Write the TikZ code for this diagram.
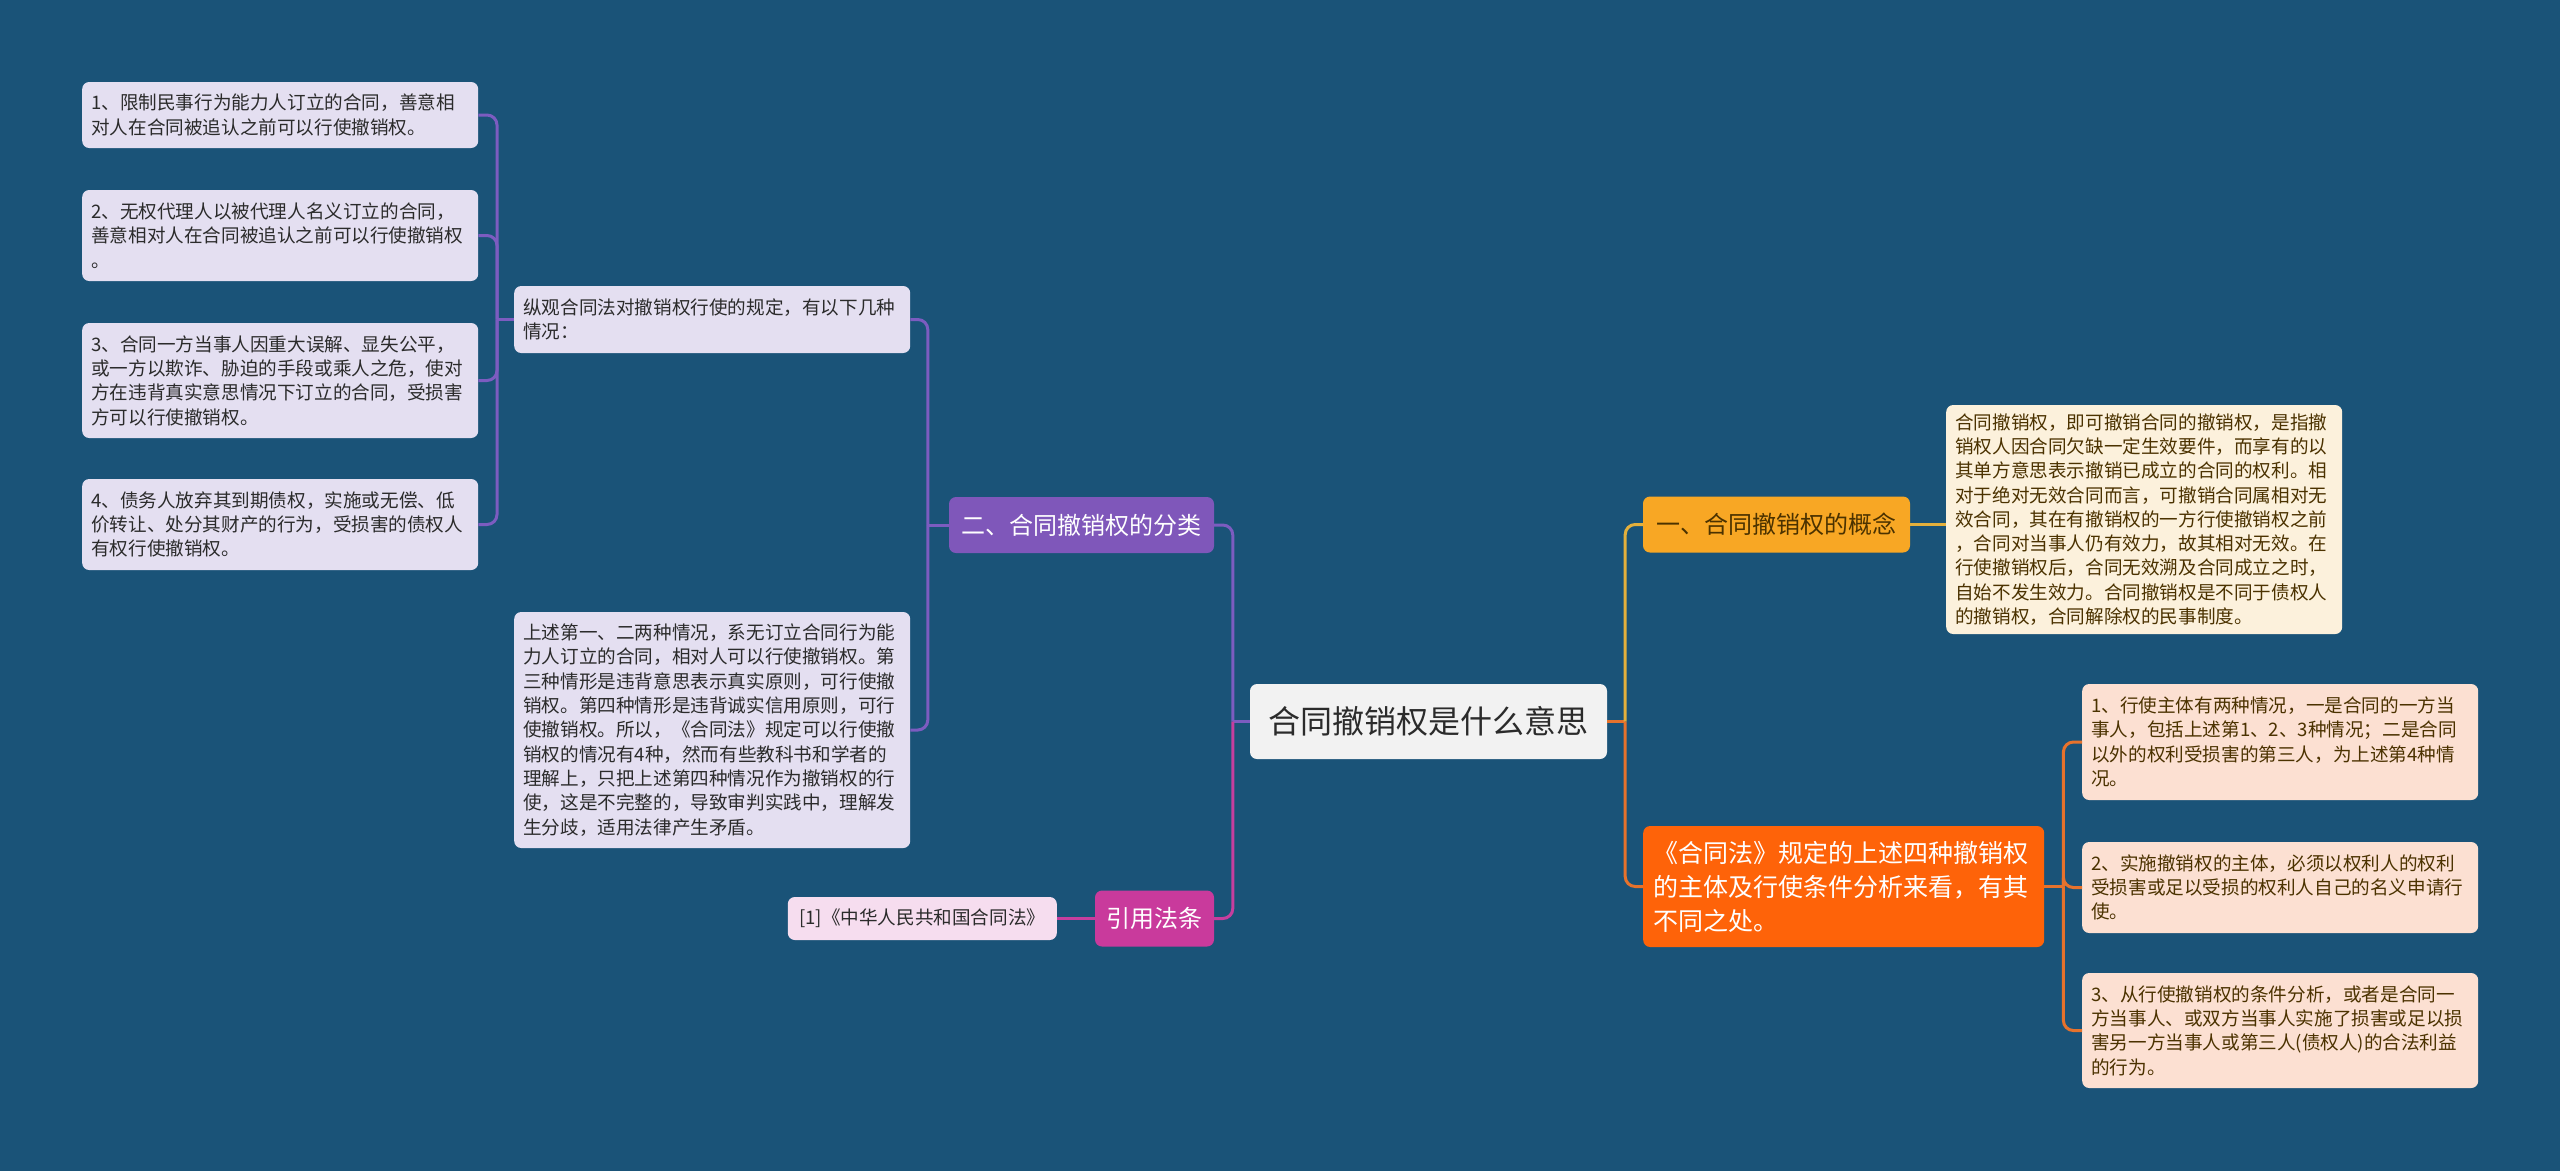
\documentclass[tikz,border=0pt]{standalone}
\usepackage{fontspec}
\setmainfont{Noto Sans CJK SC}
\usepackage{tikz}
\usetikzlibrary{positioning,calc}
\definecolor{bgblue}{HTML}{1A5378}
\definecolor{purplenode}{HTML}{7F57BA}
\definecolor{purpleleaf}{HTML}{E4DFF1}
\definecolor{purpleline}{HTML}{7C5CC0}
\definecolor{pinknode}{HTML}{C93A9C}
\definecolor{pinkleaf}{HTML}{F6DDEF}
\definecolor{pinkline}{HTML}{C63E9E}
\definecolor{yellownode}{HTML}{F8A724}
\definecolor{yellowleaf}{HTML}{FCF1DC}
\definecolor{yellowline}{HTML}{E4B03C}
\definecolor{orangenode}{HTML}{FE6309}
\definecolor{orangeleaf}{HTML}{FCE0D2}
\definecolor{orangeline}{HTML}{E6722C}
\definecolor{darktext}{HTML}{2B2B2B}
\definecolor{browntext}{HTML}{4B3200}
\newcommand{\leaffont}{\fontsize{18.6pt}{24.3pt}\selectfont}
\newcommand{\branchfont}{\fontsize{24pt}{30pt}\selectfont}

\tikzset{
  leaf/.style={rounded corners=7pt, anchor=west, align=left, inner xsep=9pt, inner ysep=0pt,
    text width=378pt, font=\leaffont, text=darktext},
  branch/.style={rounded corners=7pt, inner sep=0pt, minimum height=56pt, font=\branchfont, text=white},
  conn/.style={line width=3pt},
}

\begin{document}
\begin{tikzpicture}[x=1pt,y=-1pt]
  \fill[bgblue] (0,0) rectangle (2560,1171);
  \useasboundingbox (0,0) rectangle (2560,1171);

  % Root node
  \node[rounded corners=7pt, fill=black!5, minimum width=357pt, minimum height=75pt, inner sep=0pt,
    font=\fontsize{32pt}{36pt}\selectfont, text=darktext] (root) at (1428.5,721.5) {合同撤销权是什么意思};

  % Left main branches
  \node[branch, fill=purplenode, minimum width=265pt] (fenlei) at (1081.5,525) {二、合同撤销权的分类};
  \node[branch, fill=pinknode, minimum width=119pt] (yinyong) at (1154.5,918.5) {引用法条};

  % Right main branches
  \node[branch, fill=yellownode, minimum width=267pt, text=browntext] (gainian) at (1776.5,524.5) {一、合同撤销权的概念};
  \node[rounded corners=7pt, fill=orangenode, anchor=west, align=left, inner xsep=10.5pt, inner ysep=0pt,
    text width=380pt, minimum height=121pt, font=\fontsize{25pt}{34pt}\selectfont, text=white]
    (zhuti) at (1643,886.5) {《合同法》规定的上述四种撤销权\\的主体及行使条件分析来看，有其\\不同之处。};

  % Leaves of fenlei
  \node[leaf, fill=purpleleaf, minimum height=67pt] (zongguan) at (514,319.5)
    {纵观合同法对撤销权行使的规定，有以下几种\\情况：};
  \node[leaf, fill=purpleleaf, minimum height=236pt] (shangshu) at (514,730)
    {上述第一、二两种情况，系无订立合同行为能\\力人订立的合同，相对人可以行使撤销权。第\\三种情形是违背意思表示真实原则，可行使撤\\销权。第四种情形是违背诚实信用原则，可行\\使撤销权。所以，《合同法》规定可以行使撤\\销权的情况有4种，然而有些教科书和学者的\\理解上，只把上述第四种情况作为撤销权的行\\使，这是不完整的，导致审判实践中，理解发\\生分歧，适用法律产生矛盾。};

  % Leaves of zongguan
  \node[leaf, fill=purpleleaf, minimum height=66pt] (qk1) at (82,115)
    {1、限制民事行为能力人订立的合同，善意相\\对人在合同被追认之前可以行使撤销权。};
  \node[leaf, fill=purpleleaf, minimum height=91pt] (qk2) at (82,235.5)
    {2、无权代理人以被代理人名义订立的合同，\\善意相对人在合同被追认之前可以行使撤销权\\。};
  \node[leaf, fill=purpleleaf, minimum height=115pt] (qk3) at (82,380.5)
    {3、合同一方当事人因重大误解、显失公平，\\或一方以欺诈、胁迫的手段或乘人之危，使对\\方在违背真实意思情况下订立的合同，受损害\\方可以行使撤销权。};
  \node[leaf, fill=purpleleaf, minimum height=91pt] (qk4) at (82,524.5)
    {4、债务人放弃其到期债权，实施或无偿、低\\价转让、处分其财产的行为，受损害的债权人\\有权行使撤销权。};

  % Leaf of yinyong
  \node[rounded corners=7pt, fill=pinkleaf, minimum width=269pt, minimum height=43pt, inner sep=0pt,
    font=\leaffont, text=darktext, anchor=east] (falv) at (1057,918.5) {[1]《中华人民共和国合同法》};

  % Leaf of gainian
  \node[leaf, fill=yellowleaf, minimum height=229pt, text=browntext] (dingyi) at (1946,519.5)
    {合同撤销权，即可撤销合同的撤销权，是指撤\\销权人因合同欠缺一定生效要件，而享有的以\\其单方意思表示撤销已成立的合同的权利。相\\对于绝对无效合同而言，可撤销合同属相对无\\效合同，其在有撤销权的一方行使撤销权之前\\，合同对当事人仍有效力，故其相对无效。在\\行使撤销权后，合同无效溯及合同成立之时，\\自始不发生效力。合同撤销权是不同于债权人\\的撤销权，合同解除权的民事制度。};

  % Leaves of zhuti
  \node[leaf, fill=orangeleaf, minimum height=116pt, text=browntext] (zt1) at (2082,742)
    {1、行使主体有两种情况，一是合同的一方当\\事人，包括上述第1、2、3种情况；二是合同\\以外的权利受损害的第三人，为上述第4种情\\况。};
  \node[leaf, fill=orangeleaf, minimum height=91pt, text=browntext] (zt2) at (2082,887.5)
    {2、实施撤销权的主体，必须以权利人的权利\\受损害或足以受损的权利人自己的名义申请行\\使。};
  \node[leaf, fill=orangeleaf, minimum height=115pt, text=browntext] (zt3) at (2082,1030.5)
    {3、从行使撤销权的条件分析，或者是合同一\\方当事人、或双方当事人实施了损害或足以损\\害另一方当事人或第三人(债权人)的合法利益\\的行为。};

  % Junctions
  \coordinate (jroot-l) at ([xshift=-17pt]root.west);
  \coordinate (jroot-r) at ([xshift=18pt]root.east);
  \coordinate (jfenlei) at ([xshift=-21pt]fenlei.west);
  \coordinate (jzongguan) at ([xshift=-17pt]zongguan.west);
  \coordinate (jzhuti) at ([xshift=19pt]zhuti.east);

  % Left connectors
  \draw[conn, purpleline] (root.west) -- (jroot-l);
  \draw[conn, purpleline, rounded corners=10pt] (jroot-l) |- (fenlei.east);
  \draw[conn, pinkline, rounded corners=10pt] (jroot-l) |- (yinyong.east);
  \draw[conn, pinkline] (yinyong.west) -- (falv.east);
  \draw[conn, purpleline] (fenlei.west) -- (jfenlei);
  \foreach \n in {zongguan,shangshu}
    \draw[conn, purpleline, rounded corners=10pt] (jfenlei) |- (\n.east);
  \draw[conn, purpleline] (zongguan.west) -- (jzongguan);
  \foreach \n in {qk1,qk2,qk3,qk4}
    \draw[conn, purpleline, rounded corners=10pt] (jzongguan) |- (\n.east);

  % Right connectors
  \draw[conn, orangeline] (root.east) -- (jroot-r);
  \draw[conn, yellowline, rounded corners=10pt] (jroot-r) |- (gainian.west);
  \draw[conn, orangeline, rounded corners=10pt] (jroot-r) |- (zhuti.west);
  \draw[conn, yellowline] (gainian.east) -- (gainian.east -| dingyi.west);
  \draw[conn, orangeline] (zhuti.east) -- (jzhuti);
  \foreach \n in {zt1,zt2,zt3}
    \draw[conn, orangeline, rounded corners=10pt] (jzhuti) |- (\n.west);
\end{tikzpicture}
\end{document}
